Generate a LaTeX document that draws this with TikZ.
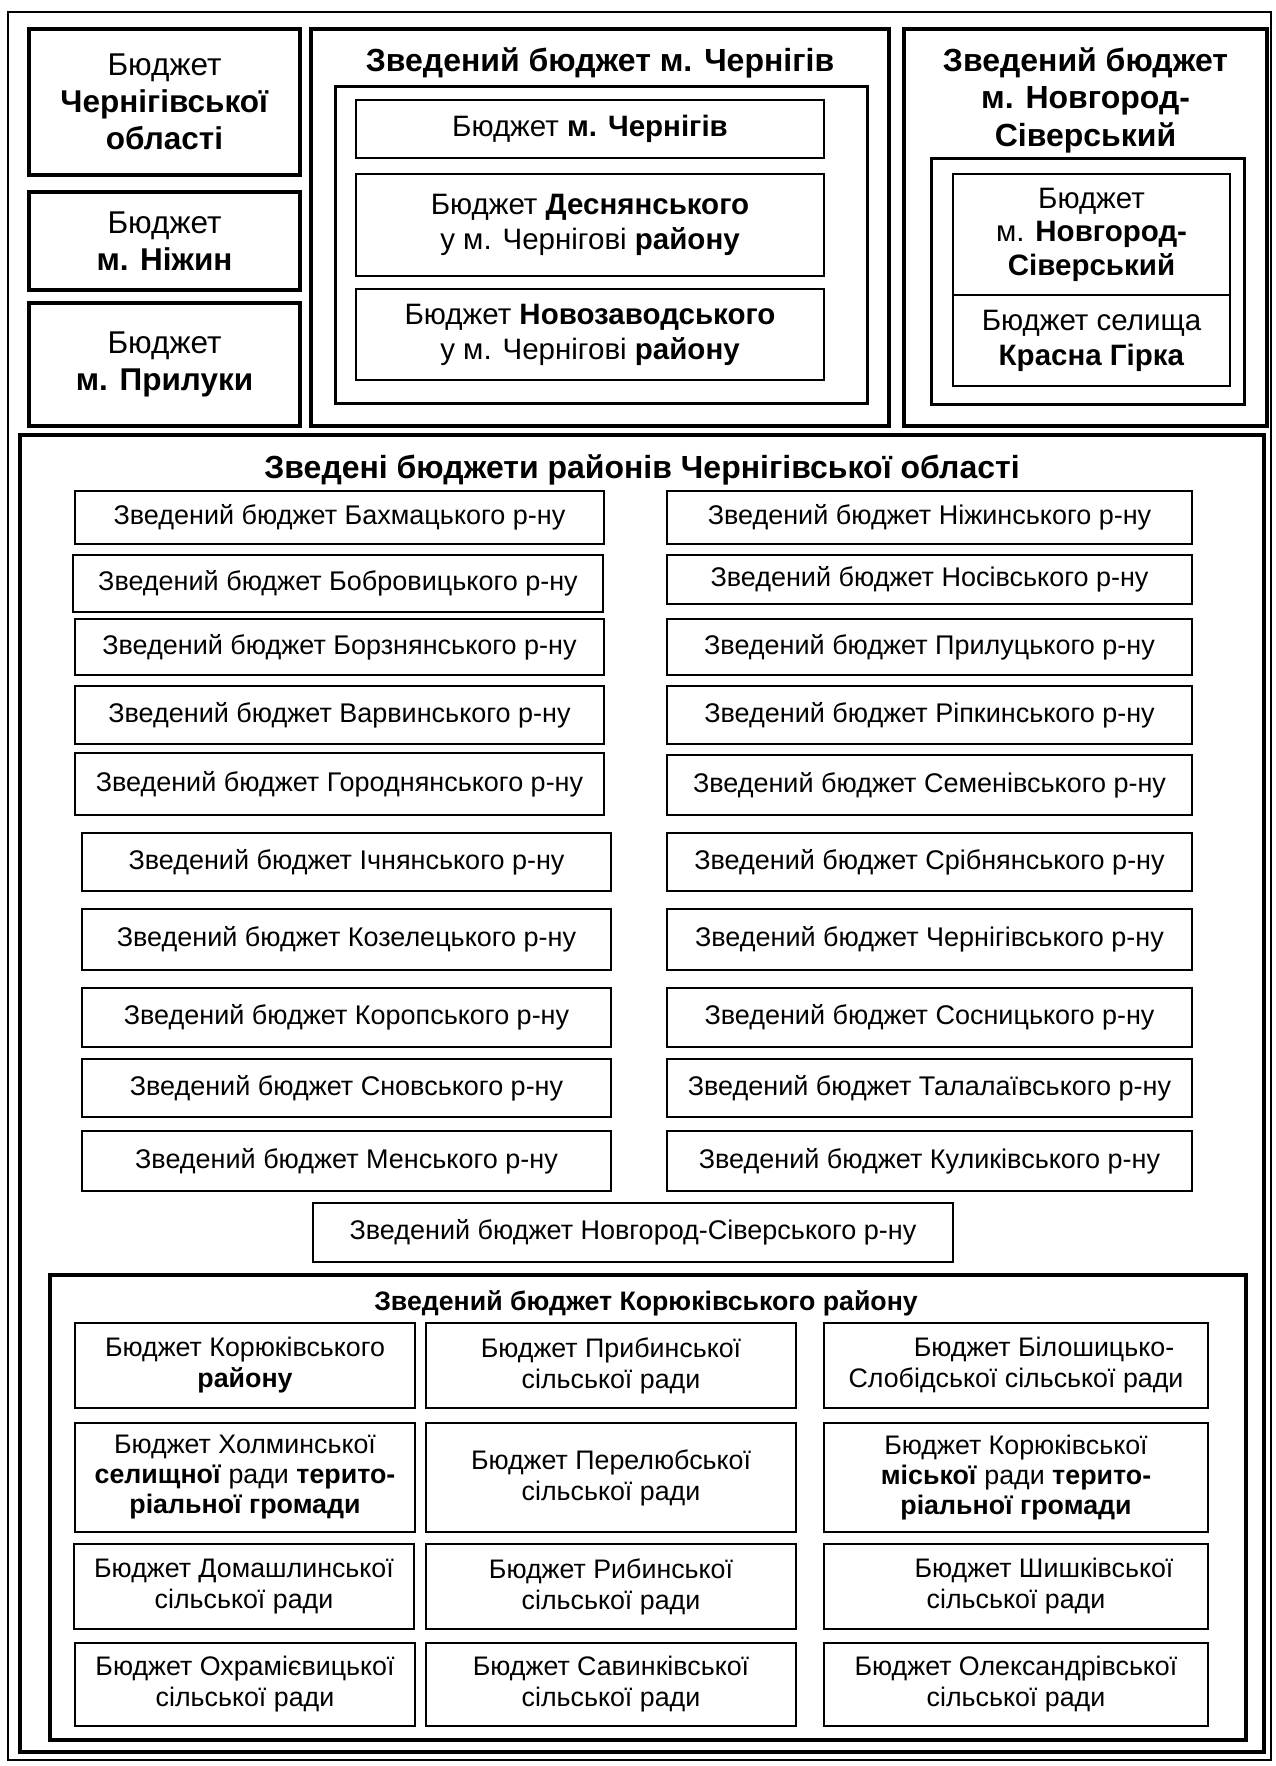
\documentclass[tikz,border=0pt]{standalone}
\usepackage{fontspec}
\setmainfont{Liberation Sans}
\newcommand\bx[7]{\node[#2, minimum width={(#5-#3)*1pt}, minimum height={(#6-#4)*1pt}] (#1) at ({(#3+#5)/2},{(#4+#6)/2}) {#7};}
\tikzset{
  base/.style={draw, inner sep=0pt, outer sep=0pt, align=center},
  frame/.style={base, line width=2.2pt},
  thickbox/.style={base, line width=4.5pt},
  midbox/.style={base, line width=3pt},
  thinbox/.style={base, line width=1.6pt},
  distbox/.style={base, line width=2pt, font=\fontsize{27}{31}\selectfont},
  gridbox/.style={base, line width=1.8pt, font=\fontsize{26.8}{31}\selectfont},
  bigtxt/.style={font=\fontsize{31.5}{37}\selectfont},
  midtxt/.style={font=\fontsize{29.5}{35}\selectfont},
  ttl/.style={inner sep=0pt, align=center, font=\bfseries\fontsize{32}{37.5}\selectfont},
}
\begin{document}
\begin{tikzpicture}[x=1pt,y=-1pt]
\useasboundingbox (0,0) rectangle (1276,1766);
\bx{frameall}{frame}{8}{12}{1271}{1760}{}
% left column
\bx{obl}{thickbox,bigtxt}{29}{29}{300}{175}{Бюджет\\\textbf{Чернігівської}\\\textbf{області}}
\bx{nizh}{thickbox,bigtxt}{29}{192}{300}{290}{Бюджет\\\textbf{м. Ніжин}}
\bx{pryl}{thickbox,bigtxt}{29}{303}{300}{426}{Бюджет\\\textbf{м. Прилуки}}
% Chernihiv
\bx{chern}{thickbox}{311}{29}{889}{426}{}
\node[ttl] (chernT) at (600,63) {Зведений бюджет м. Чернігів};
\bx{chernIn}{midbox}{335}{87}{867}{403}{}
\bx{ch1}{thinbox,midtxt}{356}{100}{824}{158}{Бюджет \textbf{м. Чернігів}}
\bx{ch2}{thinbox,midtxt}{356}{174}{824}{276}{Бюджет \textbf{Деснянського}\\у м. Чернігові \textbf{району}}
\bx{ch3}{thinbox,midtxt}{356}{289}{824}{380}{Бюджет \textbf{Новозаводського}\\у м. Чернігові \textbf{району}}
% Novhorod-Siverskyi
\bx{nov}{thickbox}{904}{29}{1267}{426}{}
\node[ttl] (novT) at (1085.5,100) {Зведений бюджет\\м. Новгород-\\Сіверський};
\bx{novIn}{midbox}{931}{158}{1244}{404}{}
\bx{nov1}{thinbox,font=\fontsize{29.5}{33.5}\selectfont}{953}{174}{1230}{295}{Бюджет\\м. \textbf{Новгород-}\\\textbf{Сіверський}}
\bx{nov2}{thinbox,midtxt}{953}{295}{1230}{386}{Бюджет селища\\\textbf{Красна Гірка}}
% districts
\bx{distr}{thickbox}{20}{435}{1264}{1752}{}
\node[ttl] (distrT) at (642,470) {Зведені бюджети районів Чернігівської області};
\bx{d1}{distbox}{75}{491}{604}{544}{Зведений бюджет Бахмацького р-ну}
\bx{d2}{distbox}{73}{555}{603}{612}{Зведений бюджет Бобровицького р-ну}
\bx{d3}{distbox}{75}{619}{604}{675}{Зведений бюджет Борзнянського р-ну}
\bx{d4}{distbox}{75}{686}{604}{744}{Зведений бюджет Варвинського р-ну}
\bx{d5}{distbox}{75}{753}{604}{815}{Зведений бюджет Городнянського р-ну}
\bx{d6}{distbox}{82}{833}{611}{891}{Зведений бюджет Ічнянського р-ну}
\bx{d7}{distbox}{82}{909}{611}{970}{Зведений бюджет Козелецького р-ну}
\bx{d8}{distbox}{82}{988}{611}{1047}{Зведений бюджет Коропського р-ну}
\bx{d9}{distbox}{82}{1059}{611}{1117}{Зведений бюджет Сновського р-ну}
\bx{d10}{distbox}{82}{1131}{611}{1191}{Зведений бюджет Менського р-ну}
\bx{e1}{distbox}{667}{491}{1192}{544}{Зведений бюджет Ніжинського р-ну}
\bx{e2}{distbox}{667}{555}{1192}{604}{Зведений бюджет Носівського р-ну}
\bx{e3}{distbox}{667}{619}{1192}{675}{Зведений бюджет Прилуцького р-ну}
\bx{e4}{distbox}{667}{686}{1192}{744}{Зведений бюджет Ріпкинського р-ну}
\bx{e5}{distbox}{667}{755}{1192}{815}{Зведений бюджет Семенівського р-ну}
\bx{e6}{distbox}{667}{833}{1192}{891}{Зведений бюджет Срібнянського р-ну}
\bx{e7}{distbox}{667}{909}{1192}{970}{Зведений бюджет Чернігівського р-ну}
\bx{e8}{distbox}{667}{988}{1192}{1047}{Зведений бюджет Сосницького р-ну}
\bx{e9}{distbox}{667}{1059}{1192}{1117}{Зведений бюджет Талалаївського р-ну}
\bx{e10}{distbox}{667}{1131}{1192}{1191}{Зведений бюджет Куликівського р-ну}
\bx{nsd}{distbox}{313}{1203}{953}{1262}{Зведений бюджет Новгород-Сіверського р-ну}
% Koriukivka
\bx{kor}{base,line width=3.8pt}{50}{1275}{1246}{1740}{}
\node[ttl,font=\bfseries\fontsize{26.7}{30}\selectfont] (korT) at (646,1303) {Зведений бюджет Корюківського району};
\bx{k11}{gridbox}{75}{1323}{415}{1408}{Бюджет Корюківського\\\textbf{району}}
\bx{k12}{gridbox}{426}{1323}{796}{1408}{Бюджет Прибинської\\сільської ради}
\bx{k13}{gridbox}{824}{1323}{1208}{1408}{\hspace*{56pt}Бюджет Білошицько-\\Слобідської сільської ради}
\bx{k21}{gridbox,font=\fontsize{26.8}{30}\selectfont}{75}{1423}{415}{1532}{Бюджет Холминської\\\textbf{селищної} ради \textbf{терито-}\\\textbf{ріальної громади}}
\bx{k22}{gridbox}{426}{1423}{796}{1532}{Бюджет Перелюбської\\сільської ради}
\bx{k23}{gridbox,font=\fontsize{26.8}{30}\selectfont}{824}{1423}{1208}{1532}{Бюджет Корюківської\\\textbf{міської} ради \textbf{терито-}\\\textbf{ріальної громади}}
\bx{k31}{gridbox}{74}{1544}{414}{1629}{Бюджет Домашлинської\\сільської ради}
\bx{k32}{gridbox}{426}{1544}{796}{1629}{Бюджет Рибинської\\сільської ради}
\bx{k33}{gridbox}{824}{1544}{1208}{1629}{\hspace*{56pt}Бюджет Шишківської\\сільської ради}
\bx{k41}{gridbox}{75}{1643}{415}{1726}{Бюджет Охрамієвицької\\сільської ради}
\bx{k42}{gridbox}{426}{1643}{796}{1726}{Бюджет Савинківської\\сільської ради}
\bx{k43}{gridbox}{824}{1643}{1208}{1726}{Бюджет Олександрівської\\сільської ради}
\end{tikzpicture}
\end{document}
